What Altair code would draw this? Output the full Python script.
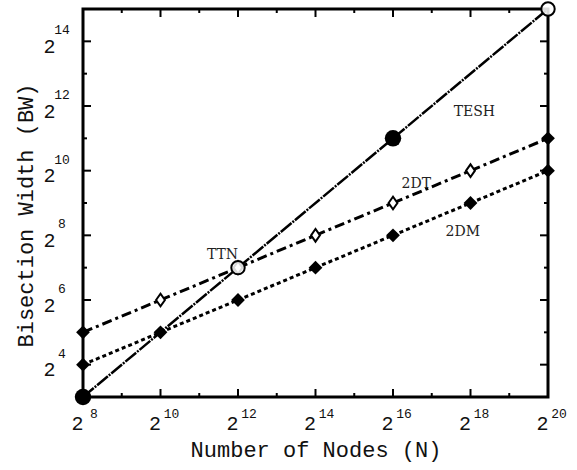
import altair as alt
import pandas as pd

# ---- data (exponents of 2) ----
x_exp = [8, 10, 12, 14, 16, 18, 20]
tesh_x = [8, 12, 16, 20]
tesh_y = [3, 7, 11, 15]
tesh_open = [False, True, False, True]
dt_y = [5, 6, 7, 8, 9, 10, 11]
dt_open = [False, True, True, True, True, True, False]
dm_y = [4, 5, 6, 7, 8, 9, 10]

x_major = [8, 10, 12, 14, 16, 18, 20]
x_minor = [9, 11, 13, 15, 17, 19]
y_major = [4, 6, 8, 10, 12, 14]
y_minor = [3, 5, 7, 9, 11, 13, 15]

label_text = ["TESH", "2DT", "2DM", "TTN"]
label_x = [18.1, 16.6, 17.8, 11.6]
label_y = [11.8, 9.6, 8.1, 7.4]

W, H = 465, 388
MONO = "Liberation Mono"
SERIF = "DejaVu Serif"

xs = alt.Scale(domain=[8, 20], nice=False, zero=False)
ys = alt.Scale(domain=[3, 15], nice=False, zero=False)

xaxis = alt.Axis(values=x_major, labelExpr="'2'", ticks=False, domain=False, grid=False,
                 labelFont=MONO, labelFontSize=20, labelColor="#111", labelPadding=16,
                 labelOffset=-6, labelFlush=False,
                 title="Number of Nodes (N)", titleFont=MONO, titleFontSize=22,
                 titleFontWeight="normal", titleColor="#111", titleY=52, titleBaseline="middle")
yaxis = alt.Axis(values=y_major, labelExpr="'2'", ticks=False, domain=False, grid=False,
                 labelFont=MONO, labelFontSize=20, labelColor="#111", labelPadding=28,
                 labelOffset=5, labelFlush=False, labelAlign="right",
                 title="Bisection Width (BW)", titleFont=MONO, titleFontSize=22,
                 titleFontWeight="normal", titleColor="#111", titleX=-58, titleY=206,
                 titleBaseline="middle", titleAlign="center")

X = alt.X("x:Q", scale=xs, axis=xaxis)
Y = alt.Y("y:Q", scale=ys, axis=yaxis)

tesh = pd.DataFrame({"x": tesh_x, "y": tesh_y, "open": tesh_open})
dt = pd.DataFrame({"x": x_exp, "y": dt_y, "open": dt_open})
dm = pd.DataFrame({"x": x_exp, "y": dm_y})
labels = pd.DataFrame({"x": label_x, "y": label_y, "t": label_text})

line_tesh = alt.Chart(tesh).mark_line(color="black", strokeWidth=2.5, strokeDash=[14, 1.2, 2, 1.2]).encode(x=X, y=Y)
line_dt = alt.Chart(dt).mark_line(color="black", strokeWidth=3, strokeDash=[10, 4, 3, 4]).encode(x=X, y=Y)
line_dm = alt.Chart(dm).mark_line(color="black", strokeWidth=3, strokeDash=[4, 3]).encode(x=X, y=Y)

dm_pts = alt.Chart(dm).mark_point(shape="diamond", filled=True, color="black", size=190, opacity=1).encode(x=X, y=Y)
dt_filled = alt.Chart(dt).transform_filter("!datum.open").mark_point(
    shape="diamond", filled=True, color="black", size=190, opacity=1).encode(x=X, y=Y)
dt_openpts = alt.Chart(dt).transform_filter("datum.open").mark_point(
    shape="M-0.7,0L0,-1L0.7,0L0,1Z", filled=True, fill="white", stroke="black", strokeWidth=2,
    size=160, opacity=1).encode(x=X, y=Y)
tesh_filled = alt.Chart(tesh).transform_filter("!datum.open").mark_point(
    shape="circle", filled=True, color="black", size=270, opacity=1).encode(x=X, y=Y)
tesh_openpts = alt.Chart(tesh).transform_filter("datum.open").mark_point(
    shape="circle", filled=True, fill="white", fillOpacity=0.85, stroke="black", strokeWidth=2,
    size=180, opacity=1).encode(x=X, y=Y)

series_labels = alt.Chart(labels).mark_text(font=SERIF, fontSize=14, color="#222",
                                            align="center", baseline="middle").encode(x=X, y=Y, text="t:N")

# tick marks (inward, mirrored)
xmaj = pd.DataFrame({"x": x_major})
xmin = pd.DataFrame({"x": x_minor})
ymaj = pd.DataFrame({"y": y_major})
ymin = pd.DataFrame({"y": y_minor})
tick_layers = []
for df, L in [(xmaj, 8), (xmin, 4)]:
    tick_layers.append(alt.Chart(df).mark_rule(color="black", strokeWidth=2).encode(
        x=X, y=alt.value(H), y2=alt.value(H - L)))
    tick_layers.append(alt.Chart(df).mark_rule(color="black", strokeWidth=2).encode(
        x=X, y=alt.value(0), y2=alt.value(L)))
for df, L in [(ymaj, 8), (ymin, 4)]:
    tick_layers.append(alt.Chart(df).mark_rule(color="black", strokeWidth=2).encode(
        y=Y, x=alt.value(0), x2=alt.value(L)))
    tick_layers.append(alt.Chart(df).mark_rule(color="black", strokeWidth=2).encode(
        y=Y, x=alt.value(W), x2=alt.value(W - L)))

# exponents of tick labels
xexp = pd.DataFrame({"x": x_major, "t": [str(v) for v in x_major]})
yexp = pd.DataFrame({"y": y_major, "t": [str(v) for v in y_major]})
xexp_txt = alt.Chart(xexp).mark_text(font=MONO, fontSize=13, color="#111", align="center",
                                     baseline="middle", dx=11).encode(
    x=X, y=alt.value(H + 17), text="t:N")
yexp_txt = alt.Chart(yexp).mark_text(font=MONO, fontSize=13, color="#111", align="center",
                                     baseline="middle", dy=-11).encode(
    y=Y, x=alt.value(-21), text="t:N")

chart = alt.layer(
    *tick_layers, line_dm, line_dt, line_tesh, dm_pts, dt_filled, dt_openpts,
    tesh_filled, tesh_openpts, series_labels, xexp_txt, yexp_txt
).properties(
    width=W, height=H,
    padding={"left": 83, "top": 9, "right": 29, "bottom": 73},
    autosize=alt.AutoSizeParams(type="none"),
    background="white",
).configure_view(stroke="black", strokeWidth=3)

chart.save("out.html", embed_options={"renderer": "svg", "actions": False})
